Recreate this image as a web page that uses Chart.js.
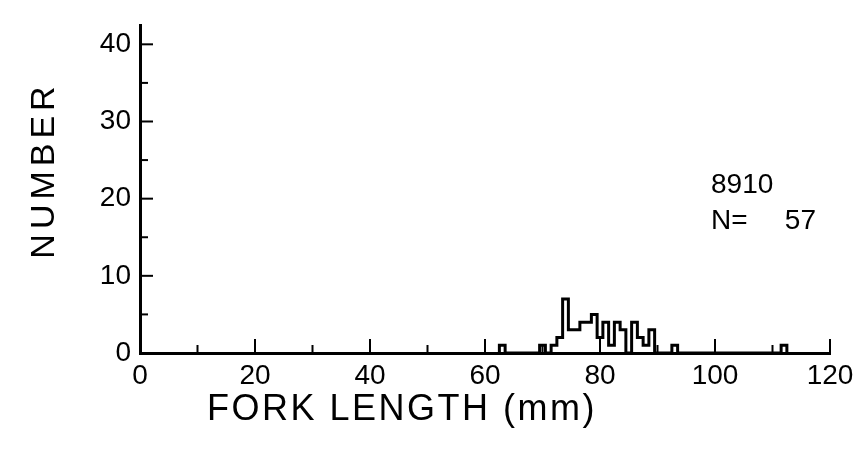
<!DOCTYPE html>
<html>
<head>
<meta charset="utf-8">
<title>Fork length frequency, 8910</title>
<script src="https://cdn.jsdelivr.net/npm/chart.js@4/dist/chart.umd.min.js"></script>
<style>
  html, body { margin: 0; padding: 0; background: #fff; }
  #wrap { width: 864px; height: 455px; }
</style>
</head>
<body>
<div id="wrap"><canvas id="c" width="864" height="455"></canvas></div>
<script>
// Fork length (mm, 1-mm bins centred on the value) and number of fish per bin
const forkLengthMm = [63, 70, 72, 73, 74, 75, 76, 77, 78, 79, 80, 81, 82, 83, 84, 86, 87, 88, 89, 93, 112];
const fishCount    = [ 1,  1,  1,  2,  7,  3,  3,  4,  4,  5,  2,  4,  1,  4,  3,  4,  2,  1,  3,  1,   1];

const xTickLabels = [0, 20, 40, 60, 80, 100, 120];
const yTickLabels = [0, 10, 20, 30, 40];

const sampleId = '8910';
const sampleN = 57;

const FONT = "'Liberation Sans', 'DejaVu Sans', Arial, sans-serif";

// Outline points for a stepped histogram: each bin starts at its left edge,
// and a gap between bins drops back to zero.
function histogramOutline(centres, counts) {
  const pts = [];
  for (let i = 0; i < centres.length; i++) {
    const left = centres[i] - 0.5;
    const right = centres[i] + 0.5;
    if (i === 0 || centres[i - 1] !== centres[i] - 1) {
      pts.push({ x: left, y: 0 });
    }
    pts.push({ x: left, y: counts[i] });
    pts.push({ x: right, y: counts[i] });
    if (i === centres.length - 1 || centres[i + 1] !== centres[i] + 1) {
      pts.push({ x: right, y: 0 });
    }
  }
  return pts;
}

// Inward tick marks on both axes plus the text labels around the plot
const decorations = {
  id: 'decorations',
  afterDraw(chart) {
    const ctx = chart.ctx;
    const xs = chart.scales.x;
    const ys = chart.scales.y;
    const x0 = xs.getPixelForValue(0);
    const y0 = ys.getPixelForValue(0);
    ctx.save();
    ctx.strokeStyle = '#000';
    ctx.lineWidth = 2;
    ctx.lineCap = 'butt';
    for (let v = 10; v <= 120; v += 10) {
      const px = xs.getPixelForValue(v);
      const len = v % 20 === 0 ? 14 : 8;
      ctx.beginPath();
      ctx.moveTo(px, y0);
      ctx.lineTo(px, y0 - len);
      ctx.stroke();
    }
    for (let v = 5; v <= 40; v += 5) {
      const py = ys.getPixelForValue(v);
      const len = v % 10 === 0 ? 13 : 8;
      ctx.beginPath();
      ctx.moveTo(x0, py);
      ctx.lineTo(x0 + len, py);
      ctx.stroke();
    }

    ctx.fillStyle = '#000';
    ctx.textBaseline = 'middle';

    // y-axis title
    ctx.save();
    ctx.translate(45, 172);
    ctx.rotate(-Math.PI / 2);
    ctx.textAlign = 'center';
    ctx.font = '34px ' + FONT;
    ctx.letterSpacing = '5px';
    ctx.fillText('NUMBER', 2, 0);
    ctx.restore();

    // x-axis title
    ctx.save();
    ctx.textAlign = 'left';
    ctx.font = '36px ' + FONT;
    ctx.letterSpacing = '2.5px';
    ctx.fillText('FORK LENGTH (mm)', 207, 410);
    ctx.restore();

    // sample annotation
    ctx.save();
    ctx.textAlign = 'left';
    ctx.font = '28px ' + FONT;
    ctx.fillText(sampleId, 711, 185);
    ctx.fillText('N=', 711, 221);
    ctx.textAlign = 'right';
    ctx.fillText(String(sampleN), 816, 221);
    ctx.restore();

    ctx.restore();
  }
};

new Chart(document.getElementById('c'), {
  type: 'line',
  data: {
    datasets: [{
      data: histogramOutline(forkLengthMm, fishCount),
      borderColor: '#000',
      borderWidth: 3,
      borderJoinStyle: 'miter',
      pointRadius: 0,
      fill: false,
      tension: 0
    }]
  },
  options: {
    responsive: false,
    animation: false,
    devicePixelRatio: 1,
    layout: { padding: { left: 0, right: 34, top: 15, bottom: 0 } },
    plugins: {
      legend: { display: false },
      tooltip: { enabled: false },
      title: { display: false }
    },
    scales: {
      x: {
        type: 'linear',
        min: 0,
        max: 120,
        afterBuildTicks(scale) { scale.ticks = xTickLabels.map(v => ({ value: v })); },
        afterFit(scale) { scale.height = 102; },
        grid: { display: false, drawTicks: false },
        border: { display: true, color: '#000', width: 3 },
        ticks: {
          color: '#000',
          padding: 6,
          maxRotation: 0,
          autoSkip: false,
          font: { family: FONT, size: 28 }
        }
      },
      y: {
        type: 'linear',
        min: 0,
        max: 42.4,
        afterBuildTicks(scale) { scale.ticks = yTickLabels.map(v => ({ value: v })); },
        afterFit(scale) { scale.width = 140; },
        grid: { display: false, drawTicks: false },
        border: { display: true, color: '#000', width: 3 },
        ticks: {
          color: '#000',
          padding: 9,
          autoSkip: false,
          font: { family: FONT, size: 28 }
        }
      }
    }
  },
  plugins: [decorations]
});
</script>
</body>
</html>
